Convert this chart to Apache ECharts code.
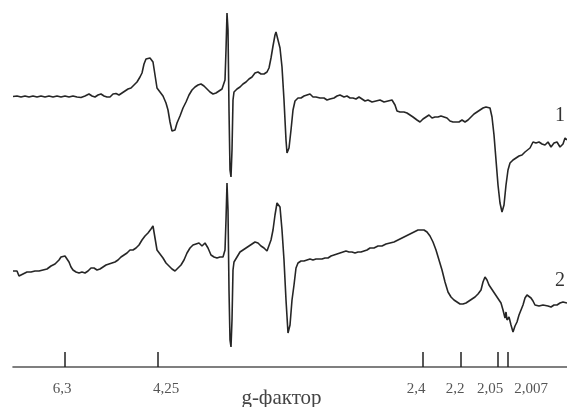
<!DOCTYPE html>
<html>
<head>
<meta charset="utf-8">
<script src="https://cdn.jsdelivr.net/npm/echarts@6/dist/echarts.min.js"></script>
<style>
  html, body { margin: 0; padding: 0; background: #fff; }
  #chart { width: 567px; height: 407px; }
</style>
</head>
<body>
<div id="chart"></div>
<script>
// EPR spectra: magnetic field (arbitrary units) vs. derivative signal amplitude.
// Each trace is stored as [field, amplitude] relative to its own baseline.

// Spectrum 1
const spectrum1 = [
  [13,0.5],[17,1],[21,0],[25,1],[29,0],[33,1],[37,0],[41,1],[45,0],[49,1],[53,0],[57,1],[61,0],[65,1],[69,0],[73,1],[77,0],[81,-0.5],[85,1],[89,3],[92,1],[95,0],[98,2],[101,3],[104,1],[107,0],[110,0],[113,3],[116,3.5],[119,2],[122,4],[125,6],[128,8],[131,9],[134,12],[137,15],[140,20],[142,24],[144,33],[146,38],[148,37],[150,39],[152,40],[153,35],[155,22],[157,9],[160,5],[163,1],[166,-6],[168,-13],[170,-25],[172,-34],[173,-36],[175,-33],[177,-26],[180,-19],[183,-11],[186,-5],[189,2],[192,7],[195,10],[198,12],[201,13],[204,11],[207,8],[210,5],[213,3],[216,4],[219,6],[222,8],[224,10],[225,17],[226,47],[227,84],[228,67],[229,-13],[230,-73],[231,-80],[232,-53],[233,-3],[234,5],[237,8],[240,10],[243,13],[246,15],[249,18],[252,20],[255,24],[258,25],[261,23],[264,23],[267,25],[269,29],[271,39],[273,51],[275,62],[276,65],[278,63],[280,49],[282,30],[284,-3],[286,-43],[287,-56],[289,-51],[291,-33],[293,-13],[295,-4],[298,-1],[301,-1],[304,1],[307,2],[310,3],[313,0],[316,0],[320,-1],[324,-1],[327,-3],[330,-2],[334,-1],[337,1],[340,2],[344,0],[347,1],[350,-1],[353,-1],[356,-2],[359,0],[362,-2],[365,-4],[368,-3],[372,-5],[376,-4],[380,-3],[384,-5],[388,-4],[392,-3],[395,-8],[397,-14],[400,-15],[404,-15],[407,-16],[410,-18],[413,-20],[417,-23],[420,-25],[423,-22],[426,-20],[429,-18],[432,-21],[435,-20],[438,-20],[441,-19],[444,-20],[447,-21],[450,-24],[453,-25],[456,-25],[459,-25],[462,-23],[465,-25],[468,-23],[471,-20],[474,-17],[477,-15],[480,-13],[483,-11],[486,-10],[488,-8],[490,-11],[492,-20],[494,-38],[496,-63],[498,-88],[500,-106],[502,-115],[504,-108],[506,-88],[508,-73],[510,-66],[513,-63],[516,-61],[519,-59],[522,-58],[525,-55],[527,-53],[530,-51],[533,-45],[536,-46],[539,-45],[542,-47],[545,-48],[548,-45],[551,-50],[554,-46],[557,-45],[560,-50],[563,-47],[565,-41],[567,-43]
];

// Spectrum 2
const spectrum2 = [
  [13,1],[15,-1],[17,1],[19,-4],[21,-5],[23,-2],[25,-1],[27,0],[29,2],[31,0],[33,2],[35,1],[37,3],[39,1],[41,3],[43,2],[45,4],[47,3],[49,4],[51,6],[53,6],[55,8],[57,10],[59,12],[61,15],[63,17],[65,16],[67,14],[69,10],[71,5],[73,2],[76,0],[79,-1],[82,0],[85,-1],[88,1],[91,4],[94,4],[97,2],[100,3],[103,5],[106,7],[109,8],[112,9],[115,10],[118,12],[121,15],[124,17],[127,19],[130,22],[133,22],[136,24],[139,27],[142,32],[145,36],[148,39],[151,43],[153,46],[155,34],[157,22],[160,18],[163,14],[166,9],[169,6],[172,3],[175,1],[178,4],[181,7],[184,12],[187,19],[190,24],[193,27],[196,28],[199,29],[202,26],[205,29],[208,24],[211,17],[214,15],[217,14],[220,15],[223,15],[225,22],[226,52],[227,89],[228,62],[229,-18],[230,-68],[231,-75],[232,-48],[233,2],[234,10],[237,15],[240,20],[243,22],[246,24],[249,26],[252,28],[255,30],[258,29],[261,26],[264,24],[267,21],[269,20],[271,32],[273,42],[275,57],[277,69],[278,70],[280,65],[282,42],[284,12],[286,-28],[288,-61],[290,-53],[292,-28],[294,-13],[296,4],[298,9],[301,11],[304,11],[307,12],[310,13],[313,12],[316,13],[319,13],[322,13],[325,14],[328,14],[331,16],[334,17],[337,18],[340,19],[343,20],[346,21],[349,20],[352,20],[355,19],[358,20],[361,20],[364,21],[367,22],[370,24],[374,24],[378,26],[382,26],[386,28],[390,29],[394,30],[398,32],[402,34],[406,36],[410,38],[414,40],[418,42],[421,42],[424,42],[427,40],[430,36],[433,30],[436,22],[439,12],[442,2],[445,-10],[448,-20],[451,-25],[454,-28],[457,-30],[460,-32],[463,-32],[466,-31],[469,-29],[472,-27],[475,-25],[478,-22],[481,-18],[483,-10],[485,-5],[487,-8],[489,-13],[491,-16],[493,-19],[495,-22],[497,-24],[499,-28],[501,-31],[503,-38],[505,-46],[506,-40],[507,-48],[509,-45],[511,-53],[513,-60],[515,-54],[517,-50],[519,-43],[521,-38],[523,-33],[525,-26],[527,-23],[529,-22],[531,-26],[533,-29],[535,-33],[537,-31],[539,-34],[541,-35],[543,-33],[545,-35],[548,-34],[551,-35],[554,-33],[557,-33],[560,-31],[563,-30],[565,-32],[567,-31]
];

// g-factor markers: field positions of the ticks, and where their labels sit
const gTickField  = [65, 158, 423, 461, 498, 508];
const gLabelField = [62, 166, 416, 455, 490, 531];
const gLabels     = ['6,3', '4,25', '2,4', '2,2', '2,05', '2,007'];

// Trace names and vertical offsets used to stack the two spectra
const traceNames = ['1', '2'];
const traceOffset = [270, 95];

const FIELD_MIN = 13, FIELD_MAX = 567;

function shifted(data, off) {
  return data.map(p => [p[0], p[1] + off]);
}

const chart = echarts.init(document.getElementById('chart'), null, { renderer: 'canvas' });

const serif = '"Liberation Serif", "DejaVu Serif", serif';
const lineColor = '#262626';

chart.setOption({
  animation: false,
  backgroundColor: '#fff',
  grid: { left: 13, right: 0, top: 0, bottom: 40, containLabel: false, outerBoundsMode: 'none' },
  xAxis: {
    type: 'value',
    min: FIELD_MIN,
    max: FIELD_MAX,
    splitLine: { show: false },
    axisLine: { show: true, lineStyle: { color: '#555', width: 1.6 } },
    axisTick: {
      show: true,
      inside: true,
      length: 15,
      customValues: gTickField,
      lineStyle: { color: '#222', width: 1.5 }
    },
    axisLabel: {
      show: true,
      customValues: gLabelField,
      margin: 15,
      color: '#555',
      fontFamily: serif,
      fontSize: 15,
      hideOverlap: false,
      formatter: function (v) {
        const i = gLabelField.indexOf(v);
        return i >= 0 ? gLabels[i] : '';
      }
    },
    name: 'g-фактор',
    nameLocation: 'middle',
    nameGap: 21,
    nameMoveOverlap: false,
    nameTextStyle: {
      color: '#444',
      fontFamily: serif,
      fontSize: 21,
      padding: [0, 17, 0, 0]
    }
  },
  yAxis: {
    type: 'value',
    min: 0,
    max: 367,
    show: false
  },
  series: [
    {
      name: traceNames[0],
      type: 'line',
      data: shifted(spectrum1, traceOffset[0]),
      showSymbol: false,
      symbol: 'none',
      lineStyle: { color: lineColor, width: 1.6 }
    },
    {
      name: traceNames[1],
      type: 'line',
      data: shifted(spectrum2, traceOffset[1]),
      showSymbol: false,
      symbol: 'none',
      lineStyle: { color: lineColor, width: 1.6 }
    }
  ],
  graphic: [
    { type: 'text', left: 555, top: 106, style: { text: traceNames[0], font: '20px ' + serif, fill: '#333' } },
    { type: 'text', left: 555, top: 271, style: { text: traceNames[1], font: '20px ' + serif, fill: '#333' } }
  ]
});
</script>
</body>
</html>
